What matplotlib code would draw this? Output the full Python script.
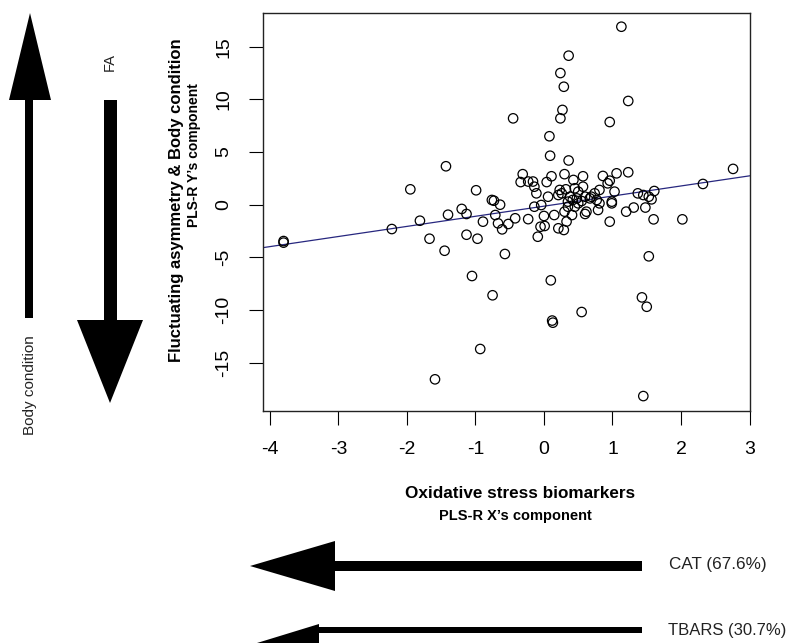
import matplotlib
matplotlib.use("Agg")
import matplotlib.pyplot as plt
from matplotlib.patches import Polygon, Rectangle

# PLS-R scores
x_scores = [-3.80, -3.80, -2.22, -1.95, -1.81, -1.67, -1.59, -1.45, -1.43, -1.40,
            -1.20, -1.13, -1.13, -1.05, -0.99, -0.97, -0.93, -0.89, -0.76, -0.73,
            -0.75, -0.71, -0.67, -0.64, -0.61, -0.57, -0.52, -0.45, -0.42, -0.31,
            -0.34, -0.23, -0.23, -0.16, -0.14, -0.11, -0.14, -0.09, -0.05, -0.04,
            0.01, 0.00, 0.06, 0.04, 0.08, 0.09, 0.10, 0.11, 0.12, 0.13,
            0.15, 0.21, 0.23, 0.21, 0.24, 0.24, 0.27, 0.29, 0.29, 0.30,
            0.32, 0.33, 0.30, 0.35, 0.36, 0.36, 0.41, 0.43, 0.45, 0.55,
            0.57, 0.57, 0.60, 0.67, 0.60, 0.62, 0.77, 0.79, 0.81, 0.86,
            0.93, 0.96, 0.96, 0.96, 0.99, 0.99, 1.03, 1.06, 1.13, 1.20,
            1.23, 1.23, 1.31, 1.37, 1.43, 1.45, 1.45, 1.48, 1.50, 1.53,
            1.53, 1.57, 1.61, 1.60, 2.02, 2.32, 2.76,
            0.26, 0.38, 0.50, 0.69, 0.74, 0.81, 0.50, 0.35, 0.45, 0.42,
            0.55, 0.48]
y_scores = [-3.45, -3.60, -2.31, 1.46, -1.52, -3.23, -16.58, -4.37, 3.65, -0.95,
            -0.40, -0.88, -2.85, -6.77, 1.37, -3.23, -13.70, -1.61, 0.45, 0.38,
            -8.60, -0.98, -1.77, 0.00, -2.34, -4.68, -1.83, 8.20, -1.29, 2.90,
            2.15, 2.20, -1.37, 2.20, 1.71, 1.08, -0.19, -3.04, -2.09, -0.03,
            -2.02, -1.07, 0.76, 2.15, 6.50, 4.65, -7.18, 2.70, -11.00, -11.20,
            -0.98, 0.92, 1.40, -2.24, 12.50, 8.20, 9.00, 11.20, -2.40, 2.90,
            1.46, -1.60, -0.66, -0.19, 14.15, 4.20, -0.98, 2.35, -0.19, -10.19,
            2.70, 1.71, 0.76, 0.60, -0.88, -0.66, 0.45, -0.50, 1.40, 2.73,
            2.03, 2.28, 7.85, -1.61, 0.29, 0.13, 1.24, 2.98, 16.90, -0.66,
            9.85, 3.08, -0.27, 1.08, -8.80, 0.92, -18.17, -0.27, -9.69, -4.90,
            0.76, 0.51, 1.30, -1.39, -1.39, 1.97, 3.40,
            1.08, 0.76, 1.24, 0.76, 1.08, 0.13, 0.13, 0.29, 1.56, 0.45,
            0.35, 0.60]

# fitted line: intercept, slope
fit_coef = [-0.14, 0.96]

x_ticks = [-4, -3, -2, -1, 0, 1, 2, 3]
y_ticks = [-15, -10, -5, 0, 5, 10, 15]

x_label = "Oxidative stress biomarkers"
x_sub = "PLS-R X\u2019s component"
y_label = "Fluctuating asymmetry & Body condition"
y_sub = "PLS-R Y\u2019s component"
var_labels = ["CAT (67.6%)", "TBARS (30.7%)"]

plt.rcParams["font.family"] = ["Liberation Sans", "DejaVu Sans"]
plt.rcParams["axes.unicode_minus"] = False

W, H = 791, 643
fig = plt.figure(figsize=(W / 100, H / 100), dpi=100)

ax = fig.add_axes([263 / W, 1 - 410.5 / H, (750 - 263) / W, (410.5 - 12.5) / H])
ax.scatter(x_scores, y_scores, s=46, facecolors="none", edgecolors="black",
           linewidths=0.9, zorder=3)
lx = [-4.10, 3.01]
ax.plot(lx, [fit_coef[0] + fit_coef[1] * v for v in lx], color="#27277f",
        lw=0.9, zorder=2)
ax.set_xlim(-4.10, 3.007)
ax.set_ylim(-19.54, 18.25)
ax.set_xticks(x_ticks)
ax.set_yticks(y_ticks)
ax.tick_params(direction="out", length=10, width=0.8, labelsize=14, pad=12)
for lbl in ax.get_yticklabels():
    lbl.set_rotation(90)
    lbl.set_va("center")
for sp in ax.spines.values():
    sp.set_linewidth(1.0)
    sp.set_color("#222222")

# axis titles
fig.text(176 / W, 1 - 200 / H, y_label, rotation=90, ha="center", va="center",
         fontsize=12, fontweight="bold")
fig.text(194 / W, 1 - 155 / H, y_sub, rotation=90, ha="center", va="center",
         fontsize=10, fontweight="bold")
fig.text(520 / W, 1 - 493 / H, x_label, ha="center", va="center",
         fontsize=12.3, fontweight="bold")
fig.text(515 / W, 1 - 516 / H, x_sub, ha="center", va="center",
         fontsize=10.5, fontweight="bold")

# overlay for the direction arrows, in pixel units
ov = fig.add_axes([0, 0, 1, 1], zorder=-1)
ov.set_xlim(0, W)
ov.set_ylim(H, 0)
ov.axis("off")

# body condition (up)
ov.add_patch(Rectangle((25, 99), 8, 219, color="black", lw=0))
ov.add_patch(Polygon([(9, 100), (51, 100), (30, 13)], color="black", lw=0))
# FA (down)
ov.add_patch(Rectangle((104, 100), 12.5, 221, color="black", lw=0))
ov.add_patch(Polygon([(77, 320), (143, 320), (110, 403)], color="black", lw=0))
# CAT (left)
ov.add_patch(Rectangle((334, 561), 308, 9.5, color="black", lw=0))
ov.add_patch(Polygon([(335, 541), (335, 591), (250, 566)], color="black", lw=0))
# TBARS (left)
ov.add_patch(Rectangle((318, 626.5), 324, 6.5, color="black", lw=0))
ov.add_patch(Polygon([(319, 624), (319, 662), (257, 643)], color="black", lw=0))

ov.text(110, 62, "FA", rotation=90, ha="center", va="center", fontsize=10.5,
        color="#222222")
ov.text(30, 385, "Body condition", rotation=90, ha="center", va="center",
        fontsize=11, color="#222222")
ov.text(669, 565, var_labels[0], ha="left", va="center", fontsize=12.3,
        color="#222222")
ov.text(668, 630, var_labels[1], ha="left", va="center", fontsize=12,
        color="#222222")

fig.savefig("out.png", dpi=100)
